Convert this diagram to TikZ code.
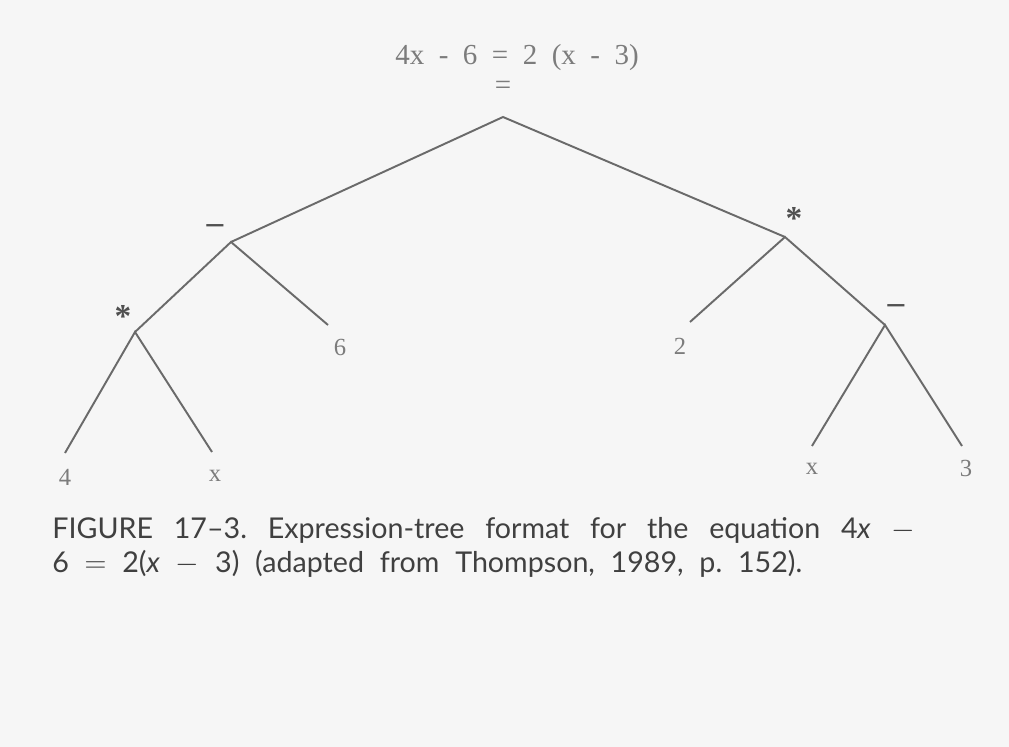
\documentclass[tikz,border=0pt]{standalone}
\usepackage{fontspec}
\setmainfont{Liberation Serif}
\newfontfamily\capfont{Lato}
\definecolor{bgc}{HTML}{F6F6F6}
\definecolor{linec}{HTML}{6A6A6A}
\definecolor{labc}{HTML}{7C7C7C}
\definecolor{opc}{HTML}{505050}
\definecolor{capc}{HTML}{404040}
\begin{document}
\frenchspacing
\begin{tikzpicture}[x=0.02cm,y=-0.02cm,
  branch/.style={draw=linec,line width=1.1pt},
  leaf/.style={text=labc,font=\fontsize{14}{16}\selectfont,inner sep=0pt},
  op/.style={text=opc,font=\fontsize{19}{21}\selectfont\bfseries,inner sep=0pt},
  title/.style={text=labc,font=\fontsize{16.5}{19}\selectfont,inner sep=0pt},
  caption/.style={text=capc,font=\capfont\fontsize{16.3}{18}\selectfont,inner sep=0pt,anchor=base west}]
\fill[bgc] (0,0) rectangle (1009,747);
\useasboundingbox (0,0) rectangle (1009,747);
% title
\node[title] (eq) at (517,58) {4x\ \ -\ \ 6\ \ =\ \ 2\ \ (x\ \ -\ \ 3)};
\node[title] (eqsign) at (503,88) {=};
% branch points
\coordinate (root) at (503,117);
\coordinate (lminus) at (231,242);
\coordinate (rstar) at (785,237);
\coordinate (lstar) at (135,332);
\coordinate (rminus) at (885,325);
\coordinate (e6) at (328,325);
\coordinate (e2) at (690,322);
\coordinate (e4) at (65,453);
\coordinate (ex1) at (212,452);
\coordinate (ex2) at (812,446);
\coordinate (e3) at (962,446);
% operator labels
\node[op] (lminusl) at (215,229) {–};
\node[op] (lstarl) at (123,316) {*};
\node[op] (rstarl) at (794,218) {*};
\node[op] (rminusl) at (896,309) {–};
% leaf labels
\node[leaf] (l6) at (340,347) {6};
\node[leaf] (l2) at (680,346) {2};
\node[leaf] (l4) at (65,477) {4};
\node[leaf] (lx1) at (215,476) {x};
\node[leaf] (lx2) at (812,469) {x};
\node[leaf] (l3) at (966,468) {3};
% connectors
\draw[branch] (lminus) -- (root) -- (rstar);
\draw[branch] (lstar) -- (lminus) -- (e6);
\draw[branch] (e2) -- (rstar) -- (rminus);
\draw[branch] (e4) -- (lstar) -- (ex1);
\draw[branch] (ex2) -- (rminus) -- (e3);
% caption
\node[caption] (cap1) at (52,538) {\makebox[17.26cm][s]{FIGURE 17\textendash 3. Expression-tree format for the equation 4\textit{x} $-$}};
\node[caption] (cap2) at (52,572) {\makebox[15.0cm][s]{6 $=$ 2(\textit{x} $-$ 3) (adapted from Thompson, 1989, p. 152).}};
\end{tikzpicture}
\end{document}
